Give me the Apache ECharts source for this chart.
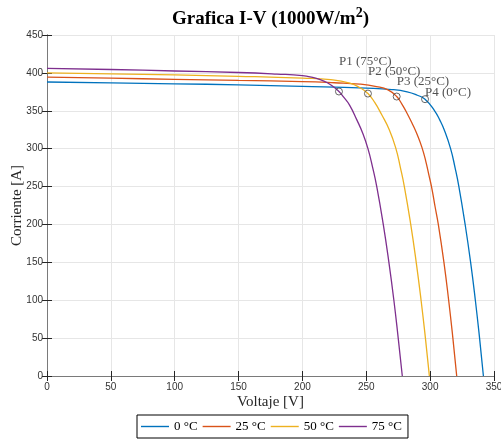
<!DOCTYPE html>
<html>
<head>
<meta charset="utf-8">
<script src="https://cdn.jsdelivr.net/npm/echarts@6/dist/echarts.min.js"></script>
<style>
html, body { margin: 0; padding: 0; background: #fff; }
#chart { width: 501px; height: 441px; }
</style>
</head>
<body>
<div id="chart"></div>
<script>
// curvas I-V a 1000 W/m2 para cuatro temperaturas
var temps = ['0 °C', '25 °C', '50 °C', '75 °C'];

var v0  = [0, 50, 100, 150, 200, 250, 270, 282, 290, 296, 303.5, 307.5, 311, 316, 319.5, 322.5, 327.4, 331.7, 335.4, 338.7, 341.7];
var i0  = [388, 386.8, 385.6, 384.2, 382.2, 379.8, 378, 375, 370.5, 365.3, 350, 338, 325, 300, 275, 250, 200, 150, 100, 50, 0];

var v25 = [0, 50, 100, 150, 200, 225, 245, 258, 267, 273.8, 278, 282, 286, 290, 293.5, 296.5, 299, 301.4, 303.8, 306.4, 310.8, 314.5, 317.8, 320.8];
var i25 = [394.3, 393, 391.5, 390, 388.5, 387, 385.2, 382, 377.5, 368.8, 358.5, 346.5, 333, 318, 302, 284, 265.5, 247, 224, 200, 150, 100, 50, 0];

var v50 = [0, 50, 100, 150, 200, 222, 237, 245.5, 251.3, 256.6, 262, 268, 273.2, 276.7, 279.8, 284.8, 289.1, 292.9, 296.3, 299.4];
var i50 = [400, 398.8, 397.3, 395.5, 393, 391, 386.4, 380, 372.7, 361, 345, 325, 300, 275, 250, 200, 150, 100, 50, 0];

var v75 = [0, 50, 100, 150, 180, 200, 208, 214, 219.5, 224, 228.6, 232.3, 236.8, 242.6, 247.3, 251.3, 255, 258.2, 263.3, 267.7, 271.6, 275, 278.2];
var i75 = [406, 404.5, 402.5, 400.5, 398.5, 396.5, 394, 391, 387, 382, 375.4, 368, 357.8, 338, 320, 300, 275, 250, 200, 150, 100, 50, 0];

// puntos de maxima potencia
var mppNames = ['P1 (75°C)', 'P2 (50°C)', 'P3 (25°C)', 'P4 (0°C)'];
var mppV = [228.6, 251.3, 273.8, 296];
var mppI = [375.4, 372.7, 368.8, 365.3];
var textI = [414.5, 401.3, 388, 374];

var colors = ['#0072BD', '#D95319', '#EDB120', '#7E2F8E'];
var serif = '"Liberation Serif", "Times New Roman", serif';
var sans = '"Liberation Sans", Arial, sans-serif';

function zip(a, b) {
    return a.map(function (x, k) { return [x, b[k]]; });
}

var curves = [zip(v0, i0), zip(v25, i25), zip(v50, i50), zip(v75, i75)];

var myChart = echarts.init(document.getElementById('chart'));

var axisBase = {
    type: 'value',
    axisLine: { show: true, lineStyle: { color: '#7a7a7a', width: 1 } },
    axisTick: { show: true, inside: true, length: 5, lineStyle: { color: '#262626' } },
    splitLine: { show: true, lineStyle: { color: '#e6e6e6', width: 1 } },
    axisLabel: { color: '#333', fontFamily: sans, fontSize: 10 }
};

function mirror(pos) {
    return Object.assign({}, axisBase, {
        position: pos,
        axisLabel: { show: false },
        splitLine: { show: false }
    });
}

var series = curves.map(function (d, k) {
    return {
        name: temps[k],
        type: 'line',
        data: d,
        symbol: 'none',
        smooth: 0.5,
        lineStyle: { color: colors[k], width: 1.3 },
        itemStyle: { color: colors[k] },
        z: 3
    };
});

series.push({
    type: 'scatter',
    data: zip(mppV, mppI),
    symbol: 'circle',
    symbolSize: 7,
    itemStyle: { color: 'rgba(0,0,0,0)', borderColor: '#444', borderWidth: 1 },
    z: 4
});

series.push({
    type: 'scatter',
    data: zip(mppV, textI),
    symbolSize: 0,
    label: {
        show: true,
        position: 'right',
        distance: 0,
        color: '#262626',
        fontFamily: serif,
        fontSize: 13,
        formatter: function (p) { return mppNames[p.dataIndex]; }
    },
    z: 5
});

var option = {
    animation: false,
    color: colors,
    title: {
        text: 'Grafica I-V (1000W/m{s|2})',
        left: 167,
        top: 1,
        textStyle: {
            fontFamily: serif,
            fontWeight: 'bold',
            fontSize: 19,
            lineHeight: 27,
            color: '#000',
            rich: {
                s: { fontFamily: serif, fontWeight: 'bold', fontSize: 14, verticalAlign: 'top', lineHeight: 27, color: '#000' }
            }
        }
    },
    grid: { left: 47, right: 7, top: 35, bottom: 65, outerBoundsMode: 'none' },
    legend: {
        data: temps,
        left: 137,
        top: 415,
        orient: 'horizontal',
        icon: 'rect',
        itemWidth: 28,
        itemHeight: 1.4,
        itemGap: 5,
        padding: [5, 6, 5, 4],
        borderColor: '#000',
        borderWidth: 1,
        backgroundColor: '#fff',
        textStyle: { fontFamily: serif, fontSize: 13, color: '#000' }
    },
    xAxis: [
        Object.assign({}, axisBase, {
            min: 0, max: 350, interval: 50,
            name: 'Voltaje [V]',
            nameLocation: 'middle',
            nameGap: 19,
            nameMoveOverlap: false,
            nameTextStyle: { fontFamily: serif, fontSize: 15, color: '#262626' },
            axisLabel: { color: '#333', fontFamily: sans, fontSize: 10, margin: 6 }
        }),
        Object.assign(mirror('top'), { min: 0, max: 350, interval: 50 })
    ],
    yAxis: [
        Object.assign({}, axisBase, {
            min: 0, max: 450, interval: 50,
            name: 'Corriente [A]',
            nameLocation: 'middle',
            nameGap: 22,
            nameMoveOverlap: false,
            nameTextStyle: { fontFamily: serif, fontSize: 15, color: '#262626' },
            axisLabel: { color: '#333', fontFamily: sans, fontSize: 10, margin: 4 }
        }),
        Object.assign(mirror('right'), { min: 0, max: 450, interval: 50 })
    ],
    series: series
};

myChart.setOption(option);
</script>
</body>
</html>
